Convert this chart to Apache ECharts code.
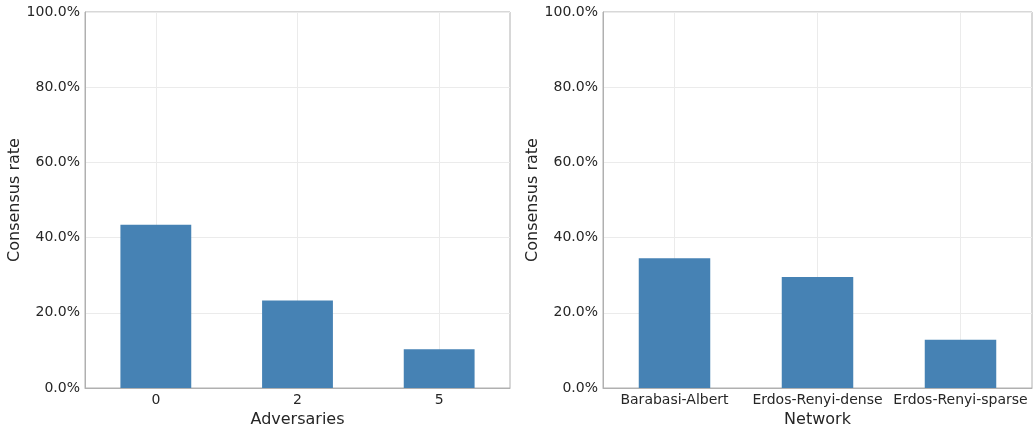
<!DOCTYPE html>
<html>
<head>
<meta charset="utf-8">
<script src="https://cdn.jsdelivr.net/npm/echarts@6/dist/echarts.min.js"></script>
<style>
  html, body { margin: 0; padding: 0; background: #fff; }
  #chart { width: 1035px; height: 425px; }
</style>
</head>
<body>
<div id="chart"></div>
<script>
// data (consensus rate, %)
const adversaries = ['0', '2', '5'];
const adversaryRate = [43.4, 23.3, 10.3];
const networks = ['Barabasi-Albert', 'Erdos-Renyi-dense', 'Erdos-Renyi-sparse'];
const networkRate = [34.5, 29.5, 12.8];

const font = 'DejaVu Sans';
const textColor = '#262626';
const frameColor = '#b0b0b0';
const gridColor = '#ebebeb';
const barColor = '#4682b4';

function xAxisFor(idx, cats, name) {
    return {
        type: 'category',
        gridIndex: idx,
        data: cats,
        name: name,
        nameLocation: 'middle',
        nameGap: 21,
        nameTextStyle: { fontFamily: font, fontSize: 16, color: textColor },
        axisLine: { show: true, lineStyle: { color: frameColor, width: 1 } },
        axisTick: { show: false, alignWithLabel: true },
        axisLabel: { fontFamily: font, fontSize: 14, color: textColor, margin: 5, interval: 0 },
        splitLine: { show: true, alignWithLabel: true, lineStyle: { color: gridColor, width: 1 } }
    }
}

function yAxisFor(idx) {
    return {
        type: 'value',
        gridIndex: idx,
        min: 0,
        max: 100,
        interval: 20,
        name: 'Consensus rate',
        nameLocation: 'middle',
        nameGap: 62,
        nameTextStyle: { fontFamily: font, fontSize: 16, color: textColor },
        axisLine: { show: true, lineStyle: { color: frameColor, width: 1 } },
        axisTick: { show: false },
        axisLabel: {
            fontFamily: font, fontSize: 14, color: textColor, margin: 5,
            formatter: function (v) { return v.toFixed(1) + '%' }
        },
        splitLine: { show: true, lineStyle: { color: gridColor, width: 1 } }
    }
}

let myChart = echarts.init(document.getElementById('chart'), null, { renderer: 'canvas' });
myChart.setOption({
    animation: false,
    backgroundColor: '#fff',
    grid: [
        { left: 85, right: 525, top: 12, bottom: 37, show: true, borderColor: frameColor, borderWidth: 1, containLabel: false, outerBoundsMode: 'none' },
        { left: 603, right: 3, top: 12, bottom: 37, show: true, borderColor: frameColor, borderWidth: 1, containLabel: false, outerBoundsMode: 'none' }
    ],
    xAxis: [
        xAxisFor(0, adversaries, 'Adversaries'),
        xAxisFor(1, networks, 'Network')
    ],
    yAxis: [yAxisFor(0), yAxisFor(1)],
    series: [
        {
            type: 'bar', xAxisIndex: 0, yAxisIndex: 0,
            data: adversaryRate, barWidth: '50%',
            itemStyle: { color: barColor }
        },
        {
            type: 'bar', xAxisIndex: 1, yAxisIndex: 1,
            data: networkRate, barWidth: '50%',
            itemStyle: { color: barColor }
        }
    ]
});
</script>
</body>
</html>
